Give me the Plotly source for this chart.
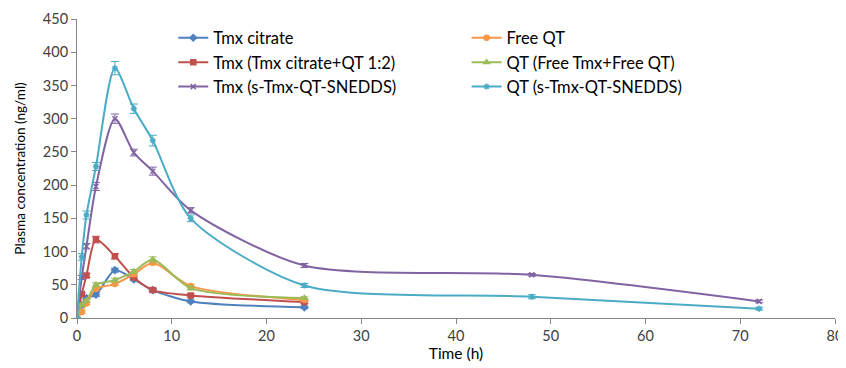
import plotly.graph_objects as go

# ---- data ----
t_short = [0, 0.5, 1, 2, 4, 6, 8, 12, 24]
t_long = [0, 0.5, 1, 2, 4, 6, 8, 12, 24, 48, 72]

tmx_citrate = [0, 20, 30, 35, 72, 58, 42, 25, 16]
tmx_citrate_err = [0, 2, 2, 3, 3, 2, 2, 2, 2]

free_qt = [0, 9, 22, 44, 51, 66, 83, 48, 27]
free_qt_err = [0, 2, 2, 2, 2, 3, 3, 2, 2]

tmx_combo = [0, 36, 64, 118, 93, 61, 42, 34, 24]
tmx_combo_err = [0, 2, 3, 5, 4, 3, 3, 2, 2]

qt_combo = [0, 20, 26, 50, 57, 70, 88, 45, 30]
qt_combo_err = [0, 2, 2, 3, 3, 3, 4, 3, 2]

tmx_snedds = [0, 61, 108, 198, 300, 249, 221, 162, 79, 65, 25]
tmx_snedds_err = [0, 3, 4, 6, 7, 5, 6, 4, 3, 2, 2]

qt_snedds = [0, 92, 155, 228, 376, 315, 267, 150, 49, 32, 14]
qt_snedds_err = [0, 5, 6, 6, 10, 7, 8, 5, 3, 3, 2]

x_ticks = [0, 10, 20, 30, 40, 50, 60, 70, 80]
y_ticks = [0, 50, 100, 150, 200, 250, 300, 350, 400, 450]

series = [
    ("Tmx citrate", t_short, tmx_citrate, tmx_citrate_err, "#4F81BD", "diamond", "legend"),
    ("Tmx (Tmx citrate+QT 1:2)", t_short, tmx_combo, tmx_combo_err, "#C0504D", "square", "legend"),
    ("Tmx (s-Tmx-QT-SNEDDS)", t_long, tmx_snedds, tmx_snedds_err, "#8064A2", "x-thin-open", "legend"),
    ("Free QT", t_short, free_qt, free_qt_err, "#F79646", "circle", "legend2"),
    ("QT (Free Tmx+Free QT)", t_short, qt_combo, qt_combo_err, "#9BBB59", "triangle-up", "legend2"),
    ("QT (s-Tmx-QT-SNEDDS)", t_long, qt_snedds, qt_snedds_err, "#4BACC6", "asterisk-open", "legend2"),
]

FONT = "Lato, 'Open Sans', sans-serif"

fig = go.Figure()
for name, xs, ys, err, color, sym, leg in series:
    fig.add_trace(go.Scatter(
        x=xs, y=ys, name=name, mode="lines+markers",
        line=dict(color=color, width=2, shape="spline", smoothing=0.75),
        marker=dict(symbol=sym, size=5, color=color, line=dict(color=color, width=1.5)),
        error_y=dict(type="data", array=err, visible=True, color=color, thickness=1, width=4),
        legend=leg, legendgroup=name,
    ))

legend_common = dict(
    orientation="v", xanchor="left", yanchor="top",
    font=dict(family=FONT, size=16.5, color="#000000"),
    bgcolor="rgba(0,0,0,0)", tracegroupgap=0, itemwidth=30,
)

# The page body carries an 8px default margin, so the figure is drawn 8px
# right and down; the margins below compensate for that offset.
fig.update_layout(
    width=838, height=360,
    margin=dict(l=69, r=11, t=11, b=50),
    paper_bgcolor="white", plot_bgcolor="white",
    font=dict(family=FONT, size=13, color="#404040"),
    showlegend=True,
    legend=dict(x=0.127, y=0.995, **legend_common),
    legend2=dict(x=0.514, y=0.995, **legend_common),
    xaxis=dict(
        range=[0, 80], tickvals=x_ticks, ticktext=[str(v) for v in x_ticks],
        automargin=False,
        showgrid=False, zeroline=False, showline=True, linecolor="#868686", linewidth=1,
        ticks="outside", ticklen=5, tickcolor="#868686",
        tickfont=dict(family=FONT, size=14.5, color="#404040"),
        title=dict(text="Time (h)", font=dict(family=FONT, size=15.5, color="#000000"), standoff=2),
    ),
    yaxis=dict(
        range=[0, 450], tickvals=y_ticks, ticktext=[str(v) for v in y_ticks],
        automargin=False,
        showgrid=False, zeroline=False, showline=True, linecolor="#868686", linewidth=1,
        ticks="outside", ticklen=5, tickcolor="#868686",
        tickfont=dict(family=FONT, size=14.5, color="#404040"),
        title=dict(text="Plasma concentration (ng/ml)", font=dict(family=FONT, size=13.5, color="#000000"), standoff=14),
    ),
)

fig.write_html("out.html")
